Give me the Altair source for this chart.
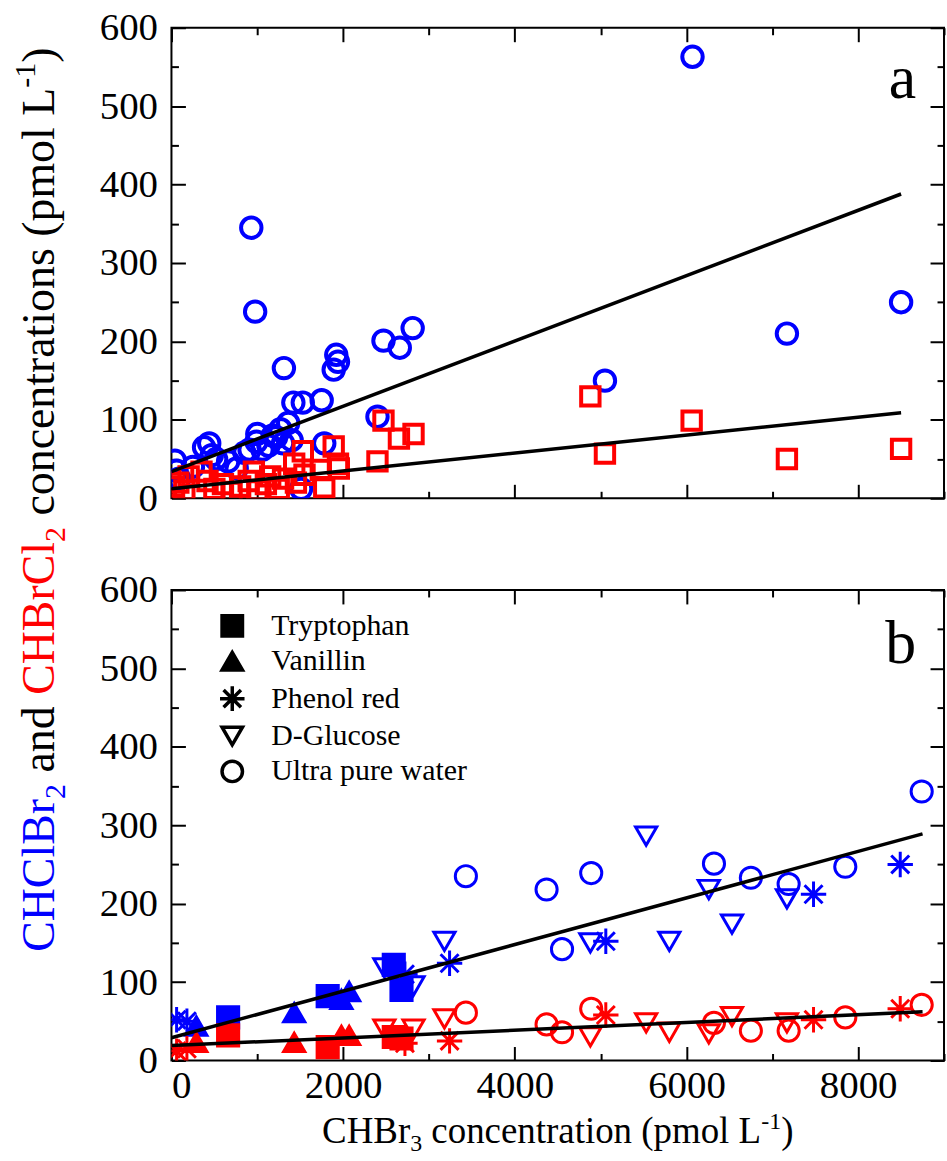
import altair as alt
import pandas as pd

FONT = "Liberation Serif"
BLUE = "#0000ff"
RED = "#ff0000"
W, H = 775, 472

# ---------------- panel a : field samples ----------------
a_blue_x = [40, 60, 90, 250, 380, 440, 470, 520, 660, 760, 850, 910, 990, 1000, 1060, 1130, 1180, 1220, 1270, 1300,
            1360, 1400, 1420, 1530, 1750, 1780, 1510, 930, 975, 1310, 1890, 1920, 1940, 2400, 2470, 2660, 2810, 5050,
            6070, 7170, 8500]
a_blue_y = [48, 35, 25, 40, 65, 70, 55, 50, 47, 38, 58, 62, 72, 82, 62, 67, 80, 78, 88, 70,
            96, 74, 122, 122, 125, 70, 12, 345, 238, 166, 164, 183, 174, 104, 201, 192, 217, 150,
            563, 210, 250]
a_red_x = [30, 80, 150, 200, 350, 420, 500, 600, 700, 800, 900, 960, 1000, 1100, 1150, 1250, 1300, 1430, 1450, 1530,
           1550, 1740, 1780, 1890, 1940, 1950, 2400, 2470, 2650, 2820, 4880, 5050, 6060, 7170, 8500]
a_red_y = [15, 20, 10, 28, 34, 22, 12, 18, 8, 15, 22, 34, 10, 18, 28, 12, 25, 44, 20, 60,
           30, 36, 14, 66, 44, 38, 47, 99, 76, 82, 130, 57, 99, 50, 63]
a_fit_x = [0, 8500]
a_fit_blue_y = [34, 388]
a_fit_red_y = [12, 109]

# ---------------- panel b : model compounds ----------------
substances = ["Tryptophan", "Vanillin", "Phenol red", "D-Glucose", "Ultra pure water"]
b_x = {
    "Tryptophan": [660, 1820, 2590, 2680],
    "Vanillin": [290, 1430, 1980, 2070],
    "Phenol red": [60, 180, 2720, 3240, 5060, 7480, 8490],
    "D-Glucose": [2480, 2820, 3180, 4880, 5530, 5800, 6260, 6530, 7170],
    "Ultra pure water": [3430, 4370, 4550, 4890, 6320, 6750, 7190, 7850, 8740],
}
b_blue = {
    "Tryptophan": [55, 82, 122, 90],
    "Vanillin": [44, 61, 78, 88],
    "Phenol red": [52, 50, 110, 124, 152, 212, 250],
    "D-Glucose": [118, 95, 152, 150, 286, 152, 218, 174, 206],
    "Ultra pure water": [235, 218, 142, 239, 251, 233, 225, 247, 343],
}
b_red = {
    "Tryptophan": [32, 17, 30, 28],
    "Vanillin": [23, 23, 32, 32],
    "Phenol red": [12, 15, 22, 25, 58, 52, 66],
    "D-Glucose": [40, 40, 53, 30, 48, 36, 34, 56, 48],
    "Ultra pure water": [61, 46, 36, 66, 48, 38, 38, 55, 71],
}
b_fit_x = [0, 8750]
b_fit_blue_y = [29, 289]
b_fit_red_y = [19, 62]

x_label_values = [0, 2000, 4000, 6000, 8000]
x_tick_values = [0, 1000, 2000, 3000, 4000, 5000, 6000, 7000, 8000, 9000]
y_label_values = [0, 100, 200, 300, 400, 500, 600]
y_tick_values = [0, 50, 100, 150, 200, 250, 300, 350, 400, 450, 500, 550, 600]

ASTERISK = "M-1.2,0L1.2,0M0,-1.2L0,1.2M-0.85,-0.85L0.85,0.85M-0.85,0.85L0.85,-0.85"
shape_range = ["square", "triangle-up", ASTERISK, "triangle-down", "circle"]
filled_subs = ["Tryptophan", "Vanillin"]

# ---------------- axes ----------------
xs = alt.Scale(domain=[0, 9000], nice=False, zero=False)
ys = alt.Scale(domain=[0, 600], nice=False, zero=False)


def tsize(mod):
    return {"condition": {"test": f"datum.value % {mod} === 0", "value": 14}, "value": 7}


def x_main(labels):
    return alt.Axis(orient="bottom", values=x_label_values, labels=labels, ticks=False, tickSize=0,
                    domain=False, grid=False, title=None, labelFont=FONT, labelFontSize=39, format="d",
                    labelColor="black", labelPadding=6)


def x_inner(orient):
    return alt.Axis(orient=orient, offset=-H, values=x_tick_values, labels=False, ticks=True,
                    tickSize=tsize(2000), tickWidth=2, tickColor="black", domain=False, grid=False, title=None)


y_main = alt.Axis(orient="left", values=y_label_values, ticks=False, tickSize=0, domain=False, grid=False,
                  title=None, labelFont=FONT, labelFontSize=39, labelColor="black", labelPadding=14, format="d")


def y_inner(orient):
    return alt.Axis(orient=orient, offset=-W, values=y_tick_values, labels=False, ticks=True,
                    tickSize=tsize(100), tickWidth=2, tickColor="black", domain=False, grid=False, title=None)


def X(axis):
    return alt.X("x:Q", scale=xs, axis=axis)


def Y(axis):
    return alt.Y("y:Q", scale=ys, axis=axis)


# ---------------- text helpers (Times metrics) ----------------
TW = {' ': 250, '(': 333, ')': 333, '-': 333, '1': 500, '2': 500, '3': 500, 'A': 722, 'B': 667, 'C': 667,
      'H': 722, 'L': 611, 'a': 444, 'c': 444, 'd': 500, 'e': 444, 'i': 278, 'l': 278, 'm': 778, 'n': 500,
      'o': 500, 'p': 500, 'r': 333, 's': 389, 't': 278}


def tw(s, size):
    return sum(TW.get(c, 500) for c in s) * size / 1000.0


one = pd.DataFrame({"k": [0]})


def text_mark(txt, x, y, size, color, angle=0, align="left"):
    return alt.Chart(one).mark_text(text=txt, font=FONT, fontSize=size, color=color, align=align,
                                    baseline="alphabetic", angle=angle).encode(
        x=alt.value(x), y=alt.value(y))


def run_pieces(parts, start, base, F, f, rotated, sub_shift, sup_shift):
    marks = []
    cur = start
    for txt, color, kind in parts:
        size = F if kind == "n" else f
        shift = 0 if kind == "n" else (sub_shift if kind == "sub" else -sup_shift)
        lead = len(txt) - len(txt.lstrip(" "))
        stripped = txt.strip(" ")
        lead_w = tw(" " * lead, size)
        if rotated:
            marks.append(text_mark(stripped, base + shift, cur - lead_w, size, color, angle=270))
            cur -= tw(txt, size)
        else:
            marks.append(text_mark(stripped, cur + lead_w, base + shift, size, color))
            cur += tw(txt, size)
    return marks


# ---------------- panel a ----------------
df_ab = pd.DataFrame({"x": a_blue_x, "y": a_blue_y})
df_ar = pd.DataFrame({"x": a_red_x, "y": a_red_y})
df_af = pd.DataFrame({"x": a_fit_x + a_fit_x, "y": a_fit_blue_y + a_fit_red_y,
                      "s": ["blue"] * len(a_fit_x) + ["red"] * len(a_fit_x)})

a_blue = alt.Chart(df_ab).mark_point(shape="circle", filled=False, color=BLUE, size=420, strokeWidth=4,
                                     opacity=1, clip=True).encode(x=X(x_main(False)), y=Y(y_main))
a_red = alt.Chart(df_ar).mark_point(shape="square", filled=False, color=RED, size=340, strokeWidth=4,
                                    opacity=1, clip=True).encode(x=X(x_inner("top")), y=Y(y_inner("right")))
a_lines = alt.Chart(df_af).mark_line(color="black", strokeWidth=3.5, clip=True).encode(
    x=X(x_inner("bottom")), y=Y(y_inner("left")), detail="s:N")
a_label = text_mark("a", 747, 70, 62, "black", align="right")

panel_a = alt.layer(a_blue, a_red, a_lines, a_label).properties(width=W, height=H).resolve_axis(
    x="independent", y="independent")

# ---------------- panel b ----------------
rows = []
for comp, vals in [("CHClBr2", b_blue), ("CHBrCl2", b_red)]:
    for sub in substances:
        for xv, yv in zip(b_x[sub], vals[sub]):
            rows.append({"x": xv, "y": yv, "compound": comp, "substance": sub,
                         "fillkey": comp if sub in filled_subs else "none"})
df_b = pd.DataFrame(rows)
df_bf1 = pd.DataFrame({"x": b_fit_x, "y": b_fit_blue_y})
df_bf2 = pd.DataFrame({"x": b_fit_x, "y": b_fit_red_y})

legend = alt.Legend(title=None, orient="none", legendX=46, legendY=21, padding=0, offset=0,
                    labelFont=FONT, labelFontSize=30, labelColor="black", labelOffset=24, labelLimit=0,
                    rowPadding=1.5, symbolSize=420, symbolStrokeWidth=3.5, symbolStrokeColor="black",
                    symbolFillColor={"expr": "indexof(['Tryptophan','Vanillin'], datum.value) >= 0 ? 'black' : 'transparent'"})

b_points = alt.Chart(df_b).mark_point(filled=True, size=450, strokeWidth=3, opacity=1, clip=True).encode(
    x=X(x_main(True)), y=Y(y_main),
    shape=alt.Shape("substance:N", scale=alt.Scale(domain=substances, range=shape_range), legend=legend),
    stroke=alt.Stroke("compound:N", scale=alt.Scale(domain=["CHClBr2", "CHBrCl2"], range=[BLUE, RED]),
                      legend=None),
    fill=alt.Fill("fillkey:N", scale=alt.Scale(domain=["CHClBr2", "CHBrCl2", "none"],
                                               range=[BLUE, RED, "transparent"]), legend=None),
)
b_line1 = alt.Chart(df_bf1).mark_line(color="black", strokeWidth=3.5, clip=True).encode(
    x=X(x_inner("top")), y=Y(y_inner("right")))
b_line2 = alt.Chart(df_bf2).mark_line(color="black", strokeWidth=3.5, clip=True).encode(
    x=X(x_inner("bottom")), y=Y(y_inner("left")))
b_label = text_mark("b", 747, 73, 62, "black", align="right")

# y title (spans both panels), drawn relative to panel b
y_title_parts = [("CHClBr", BLUE, "n"), ("2", BLUE, "sub"), (" and ", "black", "n"), ("CHBrCl", RED, "n"),
                 ("2", RED, "sub"), (" concentrations (pmol L", "black", "n"), ("-1", "black", "sup"),
                 (")", "black", "n")]
y_title = run_pieces(y_title_parts, start=363, base=-118, F=46, f=30, rotated=True, sub_shift=11, sup_shift=19)

x_title_parts = [("CHBr", "black", "n"), ("3", "black", "sub"), (" concentration (pmol L", "black", "n"),
                 ("-1", "black", "sup"), (")", "black", "n")]
xF, xf = 37, 24
x_total = sum(tw(t, xF if k == "n" else xf) for t, c, k in x_title_parts)
x_title = run_pieces(x_title_parts, start=W / 2 - x_total / 2, base=555, F=xF, f=xf, rotated=False,
                     sub_shift=8, sup_shift=14)

panel_b = alt.layer(b_points, b_line1, b_line2, b_label, *y_title, *x_title).properties(
    width=W, height=H).resolve_axis(x="independent", y="independent")

chart = alt.vconcat(panel_a, panel_b, spacing=92, bounds="flush").resolve_legend(
    shape="independent", stroke="independent", fill="independent").configure_view(
    stroke="black", strokeWidth=2).properties(
    padding={"left": 10, "top": 6, "right": 1, "bottom": 6}, background="white")

chart.save("out.html", embed_options={"renderer": "svg", "actions": False})
